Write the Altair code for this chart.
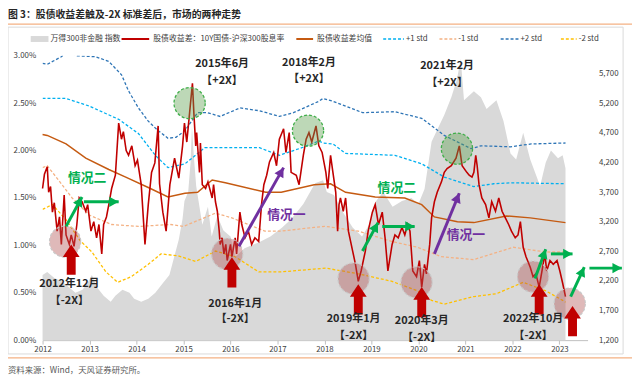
import math
import altair as alt
import pandas as pd

FONT = "Noto Sans CJK SC"

# ---------------- data ----------------
x_ticks = list(range(2012, 2024))
left_ticks = [0.0, 0.5, 1.0, 1.5, 2.0, 2.5, 3.0]
right_ticks = list(range(1200, 6000, 500))

# 股债收益差 (%)
red_series = [
    (2012.00, 1.60), (2012.04, 1.75), (2012.10, 1.83), (2012.13, 1.56), (2012.17, 1.62), (2012.21, 1.35),
    (2012.25, 1.45), (2012.31, 1.15), (2012.36, 1.30), (2012.40, 1.01), (2012.46, 1.53), (2012.50, 1.11),
    (2012.57, 1.01), (2012.61, 1.11), (2012.67, 0.99), (2012.73, 1.22), (2012.78, 1.50), (2012.84, 1.46),
    (2012.92, 1.36), (2012.96, 1.43), (2013.03, 1.15), (2013.09, 1.25), (2013.15, 1.08), (2013.20, 1.22),
    (2013.26, 0.91), (2013.30, 1.22), (2013.36, 1.30), (2013.41, 1.43), (2013.47, 1.60), (2013.55, 1.74),
    (2013.62, 2.29), (2013.68, 2.12), (2013.72, 2.20), (2013.78, 2.00), (2013.83, 1.95), (2013.90, 2.05),
    (2013.97, 1.84), (2014.02, 1.90), (2014.10, 1.64), (2014.18, 1.01), (2014.25, 1.43), (2014.32, 1.77),
    (2014.39, 1.87), (2014.46, 2.26), (2014.49, 1.65), (2014.56, 1.35), (2014.63, 1.15), (2014.71, 1.64),
    (2014.81, 1.92), (2014.90, 1.71), (2014.98, 2.05), (2015.02, 2.29), (2015.07, 2.09), (2015.13, 2.40),
    (2015.19, 2.71), (2015.22, 2.40), (2015.26, 2.05), (2015.28, 2.19), (2015.34, 1.77), (2015.36, 2.08),
    (2015.40, 1.64), (2015.47, 1.60), (2015.52, 1.67), (2015.61, 1.50), (2015.64, 1.64), (2015.68, 1.46),
    (2015.72, 1.36), (2015.76, 1.15), (2015.78, 1.01), (2015.82, 1.08), (2015.86, 0.91), (2015.90, 1.01),
    (2015.93, 0.84), (2016.00, 1.01), (2016.03, 0.88), (2016.10, 1.08), (2016.13, 0.91), (2016.20, 1.35),
    (2016.24, 1.22), (2016.31, 1.08), (2016.38, 1.15), (2016.45, 1.01), (2016.52, 1.08), (2016.60, 1.04),
    (2016.66, 1.43), (2016.71, 1.64), (2016.77, 1.74), (2016.83, 1.88), (2016.92, 1.98), (2016.98, 1.84),
    (2017.04, 2.12), (2017.13, 2.23), (2017.18, 1.98), (2017.25, 2.19), (2017.29, 1.77), (2017.40, 1.74),
    (2017.46, 1.64), (2017.55, 1.95), (2017.61, 2.12), (2017.67, 2.19), (2017.73, 2.09), (2017.82, 2.26),
    (2017.88, 2.05), (2017.95, 1.98), (2018.03, 1.77), (2018.07, 1.60), (2018.13, 1.95), (2018.18, 1.77),
    (2018.24, 1.56), (2018.28, 1.15), (2018.31, 1.43), (2018.34, 1.50), (2018.40, 1.36), (2018.45, 1.50),
    (2018.51, 1.15), (2018.60, 0.94), (2018.66, 0.80), (2018.72, 0.62), (2018.78, 0.73), (2018.87, 0.94),
    (2018.93, 1.15), (2019.02, 1.35), (2019.08, 1.43), (2019.15, 1.22), (2019.23, 1.35), (2019.29, 1.08),
    (2019.35, 0.73), (2019.44, 1.01), (2019.50, 1.11), (2019.57, 1.08), (2019.65, 1.19), (2019.71, 1.11),
    (2019.77, 1.22), (2019.82, 1.15), (2019.88, 0.73), (2019.96, 0.67), (2020.02, 0.84), (2020.07, 0.56),
    (2020.13, 0.80), (2020.17, 0.70), (2020.24, 1.01), (2020.28, 1.29), (2020.34, 1.46), (2020.40, 1.56),
    (2020.49, 1.67), (2020.55, 1.77), (2020.61, 1.81), (2020.70, 1.84), (2020.80, 1.92), (2020.87, 2.05),
    (2020.93, 1.84), (2021.03, 1.77), (2021.08, 1.74), (2021.14, 1.72), (2021.18, 1.77), (2021.22, 1.95),
    (2021.25, 1.84), (2021.29, 1.64), (2021.35, 1.50), (2021.43, 1.43), (2021.50, 1.29), (2021.56, 1.46),
    (2021.64, 1.36), (2021.71, 1.50), (2021.78, 1.36), (2021.85, 1.29), (2021.92, 1.22), (2021.98, 1.15),
    (2022.06, 1.08), (2022.12, 1.11), (2022.17, 1.25), (2022.23, 0.98), (2022.29, 0.88), (2022.38, 0.77),
    (2022.44, 0.67), (2022.50, 0.70), (2022.57, 0.56), (2022.63, 0.73), (2022.69, 0.91), (2022.73, 0.73),
    (2022.80, 0.84), (2022.87, 0.80), (2022.95, 0.84), (2023.01, 0.73), (2023.07, 0.60), (2023.13, 0.46),
]

# 万得300非金融 指数
index_series = [
    (2012.00, 2300), (2012.10, 2350), (2012.25, 2250), (2012.40, 2200), (2012.55, 2100), (2012.70, 2000),
    (2012.85, 2050), (2012.95, 2150), (2013.05, 2300), (2013.15, 2100), (2013.30, 1950), (2013.45, 1850),
    (2013.55, 1950), (2013.70, 2050), (2013.85, 2000), (2013.95, 1900), (2014.10, 1850), (2014.25, 1900),
    (2014.40, 2000), (2014.55, 2150), (2014.70, 2300), (2014.80, 2600), (2014.90, 2900), (2014.98, 3250),
    (2015.02, 3550), (2015.10, 3700), (2015.15, 4200), (2015.18, 4800), (2015.22, 4300), (2015.27, 3800),
    (2015.33, 3500), (2015.40, 3150), (2015.52, 3450), (2015.60, 2950), (2015.72, 3300), (2015.85, 3050),
    (2016.00, 2950), (2016.10, 2600), (2016.30, 2750), (2016.60, 2850), (2016.85, 2950), (2017.10, 3100),
    (2017.30, 3250), (2017.55, 3500), (2017.80, 3850), (2017.97, 3900), (2018.05, 3700), (2018.20, 3650),
    (2018.40, 3350), (2018.60, 3100), (2018.80, 2950), (2018.95, 3150), (2019.10, 3550), (2019.25, 3700),
    (2019.45, 3450), (2019.65, 3550), (2019.85, 3600), (2020.00, 3500), (2020.13, 3750), (2020.28, 4550),
    (2020.40, 4750), (2020.55, 5000), (2020.70, 5300), (2020.82, 5600), (2020.90, 5950), (2020.97, 5250),
    (2021.18, 5400), (2021.33, 5300), (2021.45, 5100), (2021.66, 5250), (2021.81, 4900), (2021.96, 4350),
    (2022.08, 4250), (2022.23, 4700), (2022.38, 4250), (2022.59, 3800), (2022.71, 4200), (2022.82, 4400),
    (2022.97, 4270), (2023.07, 4320), (2023.13, 4100),
]

mean_series = [
    (2012.00, 2.17), (2012.10, 2.16), (2012.50, 2.07), (2012.92, 1.92), (2013.41, 1.80), (2013.77, 1.72),
    (2014.25, 1.61), (2014.67, 1.51), (2015.03, 1.55), (2015.30, 1.56), (2015.61, 1.69), (2015.89, 1.66),
    (2016.75, 1.56), (2017.08, 1.56), (2017.78, 1.64), (2018.13, 1.65), (2018.45, 1.56), (2019.08, 1.51),
    (2019.71, 1.50), (2020.07, 1.43), (2020.34, 1.30), (2020.83, 1.25), (2021.18, 1.24), (2021.87, 1.31),
    (2022.38, 1.29), (2023.13, 1.24),
]

plus1_series = [
    (2012.00, 2.55), (2012.50, 2.55), (2012.99, 2.47), (2013.62, 2.33), (2014.04, 2.18), (2014.40, 1.95),
    (2014.67, 1.82), (2015.03, 1.86), (2015.45, 2.03), (2015.93, 2.03), (2016.62, 2.03), (2017.04, 1.95),
    (2017.46, 2.02), (2017.88, 2.10), (2017.97, 2.08), (2018.18, 2.07), (2018.45, 1.97), (2019.50, 1.95),
    (2020.07, 1.86), (2020.55, 1.72), (2021.18, 1.62), (2021.60, 1.65), (2022.00, 1.66), (2023.13, 1.65),
]

minus1_series = [
    (2012.00, 1.82), (2012.10, 1.84), (2012.29, 1.72), (2012.63, 1.50), (2012.99, 1.32), (2013.47, 1.22),
    (2014.04, 1.20), (2014.73, 1.22), (2015.00, 1.20), (2015.68, 1.34), (2016.03, 1.29), (2016.73, 1.15),
    (2017.08, 1.15), (2017.78, 1.19), (2018.03, 1.20), (2018.72, 1.15), (2019.44, 1.04), (2019.98, 0.98),
    (2020.49, 0.88), (2021.18, 0.85), (2022.02, 0.98), (2022.71, 0.93), (2023.13, 0.93),
]

plus2_series = [
    (2012.00, 2.92), (2012.10, 2.91), (2012.40, 2.99), (2012.55, 3.05), (2012.74, 3.00), (2013.13, 2.99),
    (2013.41, 2.94), (2013.68, 2.80), (2013.83, 2.63), (2014.04, 2.45), (2014.25, 2.31), (2014.46, 2.21),
    (2014.67, 2.13), (2014.84, 2.14), (2015.03, 2.21), (2015.30, 2.40), (2015.51, 2.40), (2015.78, 2.36),
    (2016.20, 2.45), (2016.62, 2.42), (2017.04, 2.36), (2017.34, 2.40), (2017.88, 2.52), (2017.97, 2.55),
    (2018.18, 2.52), (2018.81, 2.40), (2019.50, 2.41), (2020.07, 2.34), (2020.55, 2.16), (2021.12, 2.02),
    (2021.33, 2.05), (2021.96, 2.04), (2022.40, 2.07), (2023.13, 2.08),
]

minus2_series = [
    (2012.00, 1.38), (2012.21, 1.43), (2012.50, 1.27), (2012.80, 1.05), (2013.05, 0.93), (2013.35, 0.72),
    (2013.60, 0.61), (2013.89, 0.67), (2014.25, 0.80), (2014.52, 0.91), (2014.88, 0.89), (2015.26, 0.83),
    (2015.68, 0.94), (2016.10, 0.88), (2016.60, 0.72), (2017.08, 0.72), (2017.78, 0.75), (2018.03, 0.76),
    (2018.72, 0.70), (2019.44, 0.62), (2019.98, 0.52), (2020.28, 0.42), (2020.55, 0.38), (2021.18, 0.46),
    (2021.66, 0.49), (2022.23, 0.61), (2022.71, 0.52), (2023.07, 0.42), (2023.13, 0.40),
]

# annotations (in axis units: year, %)
plus_circle_year = [2015.13, 2017.65, 2020.82]
plus_circle_val = [2.50, 2.21, 2.02]
minus_circle_year = [2012.48, 2015.93, 2018.62, 2019.96, 2022.44, 2023.22]
minus_circle_val = [1.04, 0.91, 0.65, 0.61, 0.67, 0.385]

up_arrow_year = [2012.61, 2016.03, 2018.72, 2020.07, 2022.57, 2023.28]
up_arrow_val = [1.01, 0.875, 0.59, 0.56, 0.59, 0.36]

date_label_text = ["2015年6月", "2018年2月", "2021年2月",
                   "2012年12月", "2016年1月", "2019年1月", "2020年3月", "2022年10月"]
date_label_year = [2015.82, 2017.67, 2020.61, 2012.57, 2016.10, 2018.62, 2020.07, 2022.44]
date_label_val = [2.91, 2.92, 2.89, 0.59, 0.385, 0.22, 0.20, 0.22]
tag_label_text = ["【+2X】", "【+2X】", "【+2X】", "【-2X】", "【-2X】", "【-2X】", "【-2X】", "【-2X】"]
tag_label_val = [2.73, 2.75, 2.71, 0.41, 0.22, 0.04, 0.02, 0.04]

green_x0 = [2012.50, 2012.88, 2018.81, 2019.23, 2022.48, 2022.82, 2023.24, 2023.64]
green_y0 = [1.20, 1.46, 0.94, 1.20, 0.65, 0.91, 0.46, 0.76]
green_x1 = [2012.84, 2013.62, 2019.14, 2019.92, 2022.71, 2023.28, 2023.53, 2024.33]
green_y1 = [1.51, 1.46, 1.24, 1.20, 0.96, 0.91, 0.77, 0.76]

purple_x0 = [2016.18, 2020.34]
purple_y0 = [0.99, 0.91]
purple_x1 = [2017.13, 2020.87]
purple_y1 = [1.82, 1.55]

case2_year = [2012.95, 2019.54]
case2_val = [1.71, 1.60]
case1_year = [2017.19, 2021.01]
case1_val = [1.32, 1.11]

# ---------------- layout ----------------
W, H = 552, 288
X_MIN, X_MAX = 2012.0, 2023.6
PX_YEAR = W / (X_MAX - X_MIN)
PX_VAL = H / 3.0

xs = alt.Scale(domain=[X_MIN, X_MAX], nice=False, zero=False)
ys = alt.Scale(domain=[0, 3], nice=False, zero=False)
ys2 = alt.Scale(domain=[1200, 6000], nice=False, zero=False)

X_AXIS = alt.Axis(values=x_ticks, format="d", title=None, grid=False, labelFlush=False,
                  domainColor="#bfbfbf", tickColor="#bfbfbf", tickSize=4, labelFontSize=8,
                  labelColor="#404040", labelFont=FONT, labelPadding=2)
Y_AXIS = alt.Axis(orient="left", values=left_ticks, labelExpr="format(datum.value, '.2f') + '%'",
                  title=None, grid=False, domain=False, ticks=False, labelFontSize=8,
                  labelColor="#404040", labelFont=FONT, labelPadding=7)
Y2_AXIS = alt.Axis(orient="right", values=right_ticks, format=",d", title=None, grid=False,
                   domain=False, ticks=False, labelFontSize=8, labelColor="#404040",
                   labelFont=FONT, labelPadding=11)


def df(series, name):
    return pd.DataFrame({"year": [p[0] for p in series], name: [p[1] for p in series]})


def X(f):
    return alt.X(f, type="quantitative", scale=xs, axis=X_AXIS)


def Y(f):
    return alt.Y(f, type="quantitative", scale=ys, axis=Y_AXIS)


def arrow_frame(x0, y0, x1, y1):
    rows = []
    for a, b, c, d in zip(x0, y0, x1, y1):
        ang = math.degrees(math.atan2((c - a) * PX_YEAR, (d - b) * PX_VAL)) % 360
        rows.append({"x": a, "y": b, "x2": c, "y2": d, "angle": ang})
    return pd.DataFrame(rows)


HEAD = "M0,0 L0.6,1.1 L-0.6,1.1 Z"
BLOCK = "M0,0 L1,1.5 L0.53,1.5 L0.53,3.6 L-0.53,3.6 L-0.53,1.5 L-1,1.5 Z"

# grey index area (right axis)
area = alt.Chart(df(index_series, "idx")).mark_area(color="#d9d9d9", opacity=1).encode(
    x=X("year"),
    y=alt.Y("idx:Q", scale=ys2, axis=Y2_AXIS),
    y2=alt.datum(1200),
)


def std_line(series, color):
    return alt.Chart(df(series, "v")).mark_line(
        color=color, strokeWidth=1.3, clip=True, strokeDash=[3, 2]).encode(x=X("year"), y=Y("v"))


plus2 = std_line(plus2_series, "#2e75b6")
plus1 = std_line(plus1_series, "#00b0f0")
minus1 = std_line(minus1_series, "#f4b183")
minus2 = std_line(minus2_series, "#ffc000")
mean = alt.Chart(df(mean_series, "v")).mark_line(color="#c55a11", strokeWidth=1.5).encode(
    x=X("year"), y=Y("v"))
red = alt.Chart(df(red_series, "v")).mark_line(color="#c00000", strokeWidth=1.6).encode(
    x=X("year"), y=Y("v"))

green_circles = alt.Chart(pd.DataFrame({"year": plus_circle_year, "v": plus_circle_val})).mark_point(
    shape="circle", filled=True, size=1000, fill="#5a9e4b", fillOpacity=0.4, opacity=1,
    stroke="#3fae49", strokeWidth=1.3, strokeDash=[3, 2]).encode(x=X("year"), y=Y("v"))

red_circles = alt.Chart(pd.DataFrame({"year": minus_circle_year, "v": minus_circle_val})).mark_point(
    shape="circle", filled=True, size=1000, fill="#b05050", fillOpacity=0.4, opacity=1,
    stroke="#c8c8c8", strokeWidth=1.2, strokeDash=[3, 2]).encode(x=X("year"), y=Y("v"))

up_arrows = alt.Chart(pd.DataFrame({"year": up_arrow_year, "v": up_arrow_val})).mark_point(
    shape=BLOCK, filled=True, size=289, color="#c00000", opacity=1).encode(x=X("year"), y=Y("v"))


def line_arrows(x0, y0, x1, y1, color):
    d = arrow_frame(x0, y0, x1, y1)
    shaft = alt.Chart(d).mark_rule(color=color, strokeWidth=3).encode(
        x=X("x"), y=Y("y"), x2="x2:Q", y2="y2:Q")
    head = alt.Chart(d).mark_point(shape=HEAD, filled=True, size=300, color=color, opacity=1).encode(
        x=X("x2"), y=Y("y2"), angle=alt.Angle("angle:Q", scale=None))
    return [shaft, head]


green_arrows = line_arrows(green_x0, green_y0, green_x1, green_y1, "#00b050")
purple_arrows = line_arrows(purple_x0, purple_y0, purple_x1, purple_y1, "#7030a0")

labels_df = pd.DataFrame({"year": date_label_year, "v": date_label_val, "t": date_label_text,
                          "v2": tag_label_val, "t2": tag_label_text})
date_labels = alt.Chart(labels_df).mark_text(
    font=FONT, fontSize=11, fontWeight="bold", color="#262626").encode(
    x=X("year"), y=Y("v"), text="t:N")
tag_labels = alt.Chart(labels_df).mark_text(
    font=FONT, fontSize=11, fontWeight="bold", color="#262626").encode(
    x=X("year"), y=Y("v2"), text="t2:N")

case2 = alt.Chart(pd.DataFrame({"year": case2_year, "v": case2_val})).mark_text(
    text="情况二", font=FONT, fontSize=13, fontWeight="bold", color="#00b050").encode(
    x=X("year"), y=Y("v"))
case1 = alt.Chart(pd.DataFrame({"year": case1_year, "v": case1_val})).mark_text(
    text="情况一", font=FONT, fontSize=13, fontWeight="bold", color="#7030a0").encode(
    x=X("year"), y=Y("v"))

inner = alt.layer(plus2, plus1, minus1, minus2, mean, red,
                  green_circles, red_circles, up_arrows, *green_arrows, *purple_arrows,
                  date_labels, tag_labels, case2, case1)

# ---------------- decorations (pixel positions relative to plot origin) ----------------
ONE = alt.Data(values=[{}])


def ptext(s, x, y, size=8, color="#404040", weight="normal"):
    return alt.Chart(ONE).mark_text(text=s, align="left", baseline="middle", fontSize=size,
                                    color=color, fontWeight=weight, font=FONT).encode(
        x=alt.value(x), y=alt.value(y))


def prule(x, x2, y, color, width=1.0, dash=None):
    mk = dict(color=color, strokeWidth=width)
    if dash:
        mk["strokeDash"] = dash
    return alt.Chart(ONE).mark_rule(**mk).encode(x=alt.value(x), x2=alt.value(x2), y=alt.value(y))


frame = alt.Chart(ONE).mark_rect(fill="white", fillOpacity=0, stroke="#d9d9d9", strokeWidth=1).encode(
    x=alt.value(-35), x2=alt.value(588), y=alt.value(-29), y2=alt.value(302))

LY = -17
legend_parts = [
    alt.Chart(ONE).mark_rect(color="#d9d9d9").encode(
        x=alt.value(-12), x2=alt.value(6), y=alt.value(LY - 3), y2=alt.value(LY + 3)),
    ptext("万得300非金融 指数", 8, LY),
    prule(80, 108, LY, "#c00000", 2),
    ptext("股债收益差：10Y国债-沪深300股息率", 112, LY),
    prule(257, 274, LY, "#c55a11", 2),
    ptext("股债收益差均值", 278, LY),
    prule(345, 366, LY, "#00b0f0", 1.5, [3, 2]),
    ptext("+1 std", 368, LY),
    prule(402, 419, LY, "#f4b183", 1.5, [3, 2]),
    ptext("-1 std", 421, LY),
    prule(464, 482, LY, "#2e75b6", 1.5, [3, 2]),
    ptext("+2 std", 484, LY),
    prule(525, 541, LY, "#ffc000", 1.5, [3, 2]),
    ptext("-2 std", 543, LY),
]

title = ptext("图 3：股债收益差触及-2X 标准差后，市场的两种走势", -35, -41, size=10,
              color="#262626", weight="bold")
top_line = prule(-38, 597, -32, "#f4b183", 1.2)
bottom_line = prule(-38, 597, 306, "#f4b183", 1.2)
source = ptext("资料来源：Wind，天风证券研究所。", -35, 318, size=8.5, color="#595959")

chart = alt.layer(area, inner).resolve_scale(y="independent")
chart = alt.layer(frame, chart, *legend_parts, title, top_line, bottom_line, source)
chart = chart.properties(
    width=W, height=H,
    autosize=alt.AutoSizeParams(type="none"),
    padding={"left": 35, "top": 46, "right": 45, "bottom": 41},
    background="white",
).configure_view(stroke=None)

chart.save("out.html", embed_options={"renderer": "svg", "actions": False})
